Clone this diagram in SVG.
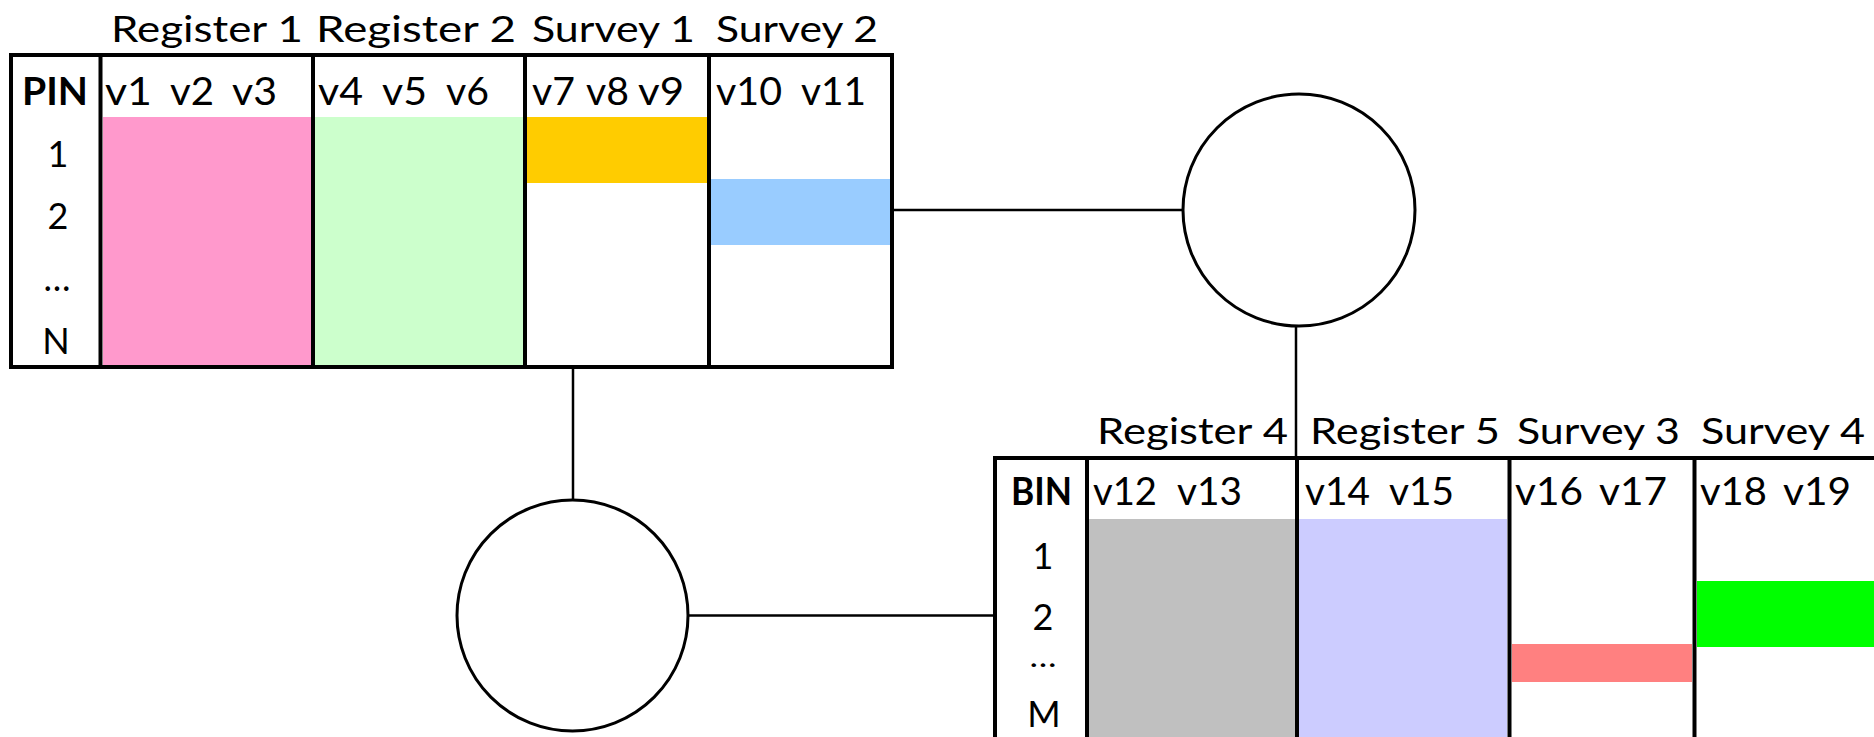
<svg xmlns="http://www.w3.org/2000/svg" width="1874" height="737" viewBox="0 0 1874 737">
  <style>
    .lbl { font-family: Lato, "Liberation Sans", sans-serif; font-size: 36px; fill: #000; }
    .var { font-family: Lato, "Liberation Sans", sans-serif; font-size: 38px; fill: #000; }
    .key { font-family: Lato, "Liberation Sans", sans-serif; font-size: 38px; font-weight: bold; fill: #000; }
    .row { font-family: Lato, "Liberation Sans", sans-serif; font-size: 36px; fill: #000; text-anchor: middle; }
    .dots { font-size: 29px; }
    .grid { fill: none; stroke: #000; stroke-width: 4; }
    .node { fill: #fff; stroke: #000; stroke-width: 3; }
    .link { fill: none; stroke: #000; stroke-width: 2.5; }
  </style>

  <rect width="1874" height="737" fill="#fff"/>

  <!-- connectors between the two tables and the linking nodes -->
  <g id="connectors">
    <path class="link" d="M892 210 H1183"/>
    <path class="link" d="M1296 326 V458"/>
    <path class="link" d="M573 367 V500"/>
    <path class="link" d="M688 615.5 H995"/>
  </g>

  <!-- person-level table -->
  <g id="pin-table">
    <rect x="103" y="117" width="208" height="249" fill="#FF99CC"/>
    <rect x="315" y="117" width="208" height="249" fill="#CCFFCC"/>
    <rect x="527" y="117" width="180" height="66" fill="#FFCC00"/>
    <rect x="711" y="179" width="179" height="66" fill="#99CCFF"/>

    <text class="lbl" x="111" y="42" textLength="192" lengthAdjust="spacingAndGlyphs">Register 1</text>
    <text class="lbl" x="316" y="42" textLength="200" lengthAdjust="spacingAndGlyphs">Register 2</text>
    <text class="lbl" x="532" y="42" textLength="163" lengthAdjust="spacingAndGlyphs">Survey 1</text>
    <text class="lbl" x="716" y="42" textLength="162" lengthAdjust="spacingAndGlyphs">Survey 2</text>

    <text class="key" x="22" y="105" textLength="66" lengthAdjust="spacingAndGlyphs">PIN</text>
    <text class="var" x="105" y="105" textLength="47" lengthAdjust="spacingAndGlyphs">v1</text>
    <text class="var" x="170" y="105" textLength="44" lengthAdjust="spacingAndGlyphs">v2</text>
    <text class="var" x="232" y="105" textLength="45" lengthAdjust="spacingAndGlyphs">v3</text>
    <text class="var" x="318" y="105" textLength="45" lengthAdjust="spacingAndGlyphs">v4</text>
    <text class="var" x="382" y="105" textLength="45" lengthAdjust="spacingAndGlyphs">v5</text>
    <text class="var" x="446" y="105" textLength="43" lengthAdjust="spacingAndGlyphs">v6</text>
    <text class="var" x="532" y="105" textLength="43" lengthAdjust="spacingAndGlyphs">v7</text>
    <text class="var" x="586" y="105" textLength="43" lengthAdjust="spacingAndGlyphs">v8</text>
    <text class="var" x="638" y="105" textLength="46" lengthAdjust="spacingAndGlyphs">v9</text>
    <text class="var" x="716" y="105" textLength="66" lengthAdjust="spacingAndGlyphs">v10</text>
    <text class="var" x="801" y="105" textLength="65" lengthAdjust="spacingAndGlyphs">v11</text>

    <text class="row" x="58" y="167">1</text>
    <text class="row" x="58" y="229">2</text>
    <text class="row" x="57" y="291">…</text>
    <text class="row" x="56" y="354">N</text>

    <rect class="grid" x="11" y="55" width="881" height="312"/>
    <path class="grid" d="M100.5 55 V367 M313 55 V367 M525 55 V367 M709 55 V367"/>
  </g>

  <!-- business-level table -->
  <g id="bin-table">
    <rect x="1089" y="519" width="206" height="230" fill="#C0C0C0"/>
    <rect x="1299" y="519" width="208" height="230" fill="#CCCCFF"/>
    <rect x="1512" y="644" width="180" height="38" fill="#FF8080"/>
    <rect x="1697" y="581" width="190" height="66" fill="#00FF00"/>

    <text class="lbl" x="1097" y="444" textLength="191" lengthAdjust="spacingAndGlyphs">Register 4</text>
    <text class="lbl" x="1310" y="444" textLength="190" lengthAdjust="spacingAndGlyphs">Register 5</text>
    <text class="lbl" x="1517" y="444" textLength="163" lengthAdjust="spacingAndGlyphs">Survey 3</text>
    <text class="lbl" x="1701" y="444" textLength="164" lengthAdjust="spacingAndGlyphs">Survey 4</text>

    <text class="key" x="1011" y="505" textLength="61" lengthAdjust="spacingAndGlyphs">BIN</text>
    <text class="var" x="1093" y="505" textLength="64" lengthAdjust="spacingAndGlyphs">v12</text>
    <text class="var" x="1177" y="505" textLength="65" lengthAdjust="spacingAndGlyphs">v13</text>
    <text class="var" x="1305" y="505" textLength="65" lengthAdjust="spacingAndGlyphs">v14</text>
    <text class="var" x="1389" y="505" textLength="65" lengthAdjust="spacingAndGlyphs">v15</text>
    <text class="var" x="1515" y="505" textLength="68" lengthAdjust="spacingAndGlyphs">v16</text>
    <text class="var" x="1599" y="505" textLength="68" lengthAdjust="spacingAndGlyphs">v17</text>
    <text class="var" x="1700" y="505" textLength="67" lengthAdjust="spacingAndGlyphs">v18</text>
    <text class="var" x="1783" y="505" textLength="68" lengthAdjust="spacingAndGlyphs">v19</text>

    <text class="row" x="1043" y="569">1</text>
    <text class="row" x="1043" y="630">2</text>
    <text class="row dots" x="1043" y="667" textLength="27" lengthAdjust="spacingAndGlyphs">…</text>
    <text class="row" x="1044" y="727">M</text>

    <rect class="grid" x="995" y="458" width="1000" height="300"/>
    <path class="grid" d="M1087 458 V760 M1297 458 V760 M1509.5 458 V760 M1694.5 458 V760"/>
  </g>

  <!-- linking nodes -->
  <g id="link-node-1">
    <circle class="node" cx="1299" cy="210" r="116"/>
  </g>
  <g id="link-node-2">
    <circle class="node" cx="572.5" cy="615.5" r="115.5"/>
  </g>
</svg>
